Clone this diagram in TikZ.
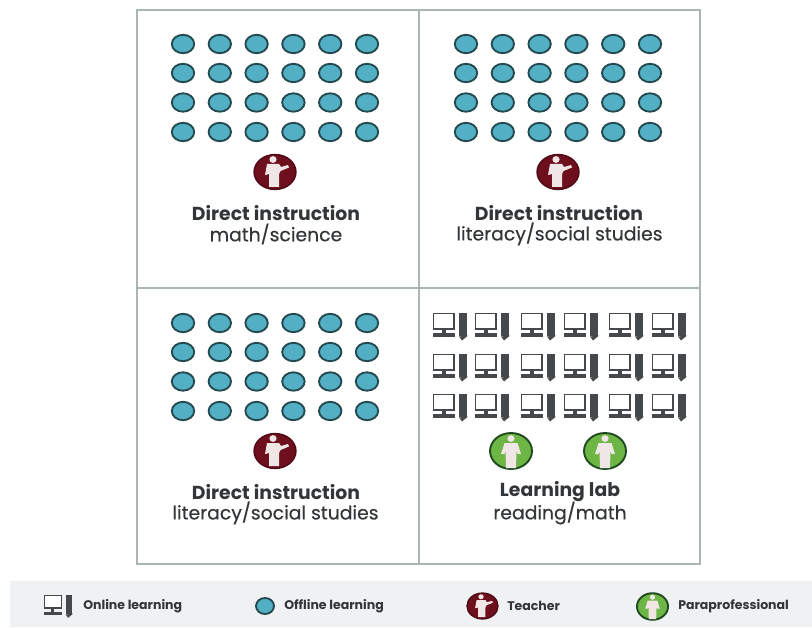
\documentclass[tikz,border=0pt]{standalone}
\usepackage{fontspec}
\setmainfont{Poppins}
\newfontfamily\medfont{Poppins}[FakeBold=0.35]
\usetikzlibrary{shapes.geometric}
\definecolor{framec}{HTML}{A9B6B3}
\definecolor{bandc}{HTML}{EFF1F3}
\definecolor{tealc}{HTML}{52AFC4}
\definecolor{ringc}{HTML}{24494E}
\definecolor{maroonc}{HTML}{6E0F1E}
\definecolor{greenc}{HTML}{6DB544}
\definecolor{ringg}{HTML}{1E4A1E}
\definecolor{inkc}{HTML}{333638}
\definecolor{compc}{HTML}{45494B}
\definecolor{bodyc}{HTML}{F1E6E6}
\tikzset{
  x=0.75pt,y=-0.75pt,
  dot/.style={ellipse,draw=ringc,fill=tealc,line width=1.4pt,minimum width=16.8pt,minimum height=13.8pt,inner sep=0pt},
  title/.style={font=\fontsize{14.1}{16}\selectfont\bfseries,text=inkc,inner sep=0pt},
  sub/.style={font=\fontsize{14.1}{16}\selectfont\medfont,text=inkc,inner sep=0pt},
  legend/.style={font=\fontsize{9.4}{11}\selectfont\bfseries,text=inkc,inner sep=0pt,anchor=west},
  pics/comp/.style={code={
    \draw[compc,line width=1.2pt,fill=white] (0.5,0.5) rectangle (21,16);
    \fill[compc] (8.5,16) rectangle (12.5,20);
    \fill[compc] (0,20) rectangle (22,23.5);
    \fill[compc] (26,0) rectangle (33.5,22.5);
    \fill[compc] (26,23.5) -- (35,22.5) -- (29,27.5) -- cycle;
  }},
  pics/teach/.style={code={
    \draw[maroonc!70!black,fill=maroonc,line width=1pt] (0,0) ellipse (21 and 17.5);
    \fill[bodyc] (-2,-12.5) circle (3.6 and 3.4);
    \fill[bodyc] (-8,-8) -- (4,-8) -- (6,-5) -- (13,-7) -- (14,-4.5) -- (5.5,-1) -- (4,2) -- (4,15) -- (-6,15) -- (-6,2) -- (-10,3) -- cycle;
  }},
  pics/para/.style={code={
    \draw[ringg,fill=greenc,line width=1.4pt] (0,0) ellipse (21 and 18);
    \fill[bodyc] (0,-12.5) circle (3.6 and 3.4);
    \fill[bodyc] (-6.5,-8) -- (6.5,-8) -- (10,3) -- (6.5,3) -- (5.5,0) -- (5,17) -- (-5,17) -- (-5.5,0) -- (-6.5,3) -- (-10,3) -- cycle;
  }}
}
\begin{document}
\begin{tikzpicture}
\useasboundingbox (0,0) rectangle (812,627);
\fill[white] (0,0) rectangle (812,627);
\fill[bandc] (10,581) rectangle (812,627);
\draw[framec,line width=1.4pt] (137,10) rectangle (700,564);
\draw[framec,line width=1.4pt] (419,10) -- (419,564);
\draw[framec,line width=1.4pt] (137,288) -- (700,288);
% dot grids
\foreach \ox/\oy/\nm in {183/44/a,466/44/b,183/323/c}{
  \foreach \i in {0,...,5}{
    \foreach \y [count=\j] in {0,29,58.5,88}{
      \node[dot] (\nm\i\j) at ({\ox+\i*36.8},{\oy+\y}) {};
    }
  }
}
% computers
\foreach \cx in {433,475,521,564,609,652}{
  \foreach \cy in {313,354,394}{
    \pic at (\cx,\cy) {comp};
  }
}
% people
\pic at (275,172) {teach};
\pic at (558,172) {teach};
\pic at (275,451) {teach};
\pic at (511,451) {para};
\pic at (605,451) {para};
% labels
\node[title] (t1) at (276,213) {Direct instruction};
\node[sub] (s1) at (276,234) {math/science};
\node[title] (t2) at (559,213) {Direct instruction};
\node[sub] (s2) at (559.5,234) {literacy/social studies};
\node[title] (t3) at (276,492) {Direct instruction};
\node[sub] (s3) at (275.5,513) {literacy/social studies};
\node[title] (t4) at (560,492) {Learning lab};
\node[sub] (s4) at (560,513) {reading/math};
% legend
\pic[scale=0.83] at (44,595) {comp};
\node[legend] (l1) at (83,606) {Online learning};
\node[dot,minimum width=13.5pt,minimum height=12pt] (ld) at (265,606) {};
\node[legend] (l2) at (284,606) {Offline learning};
\pic[xscale=0.74,yscale=0.74] at (482.5,606) {teach};
\node[legend] (l3) at (507,606) {Teacher};
\pic[xscale=0.74,yscale=0.74] at (652.5,606.5) {para};
\node[legend] (l4) at (678,606) {Paraprofessional};
\end{tikzpicture}
\end{document}
